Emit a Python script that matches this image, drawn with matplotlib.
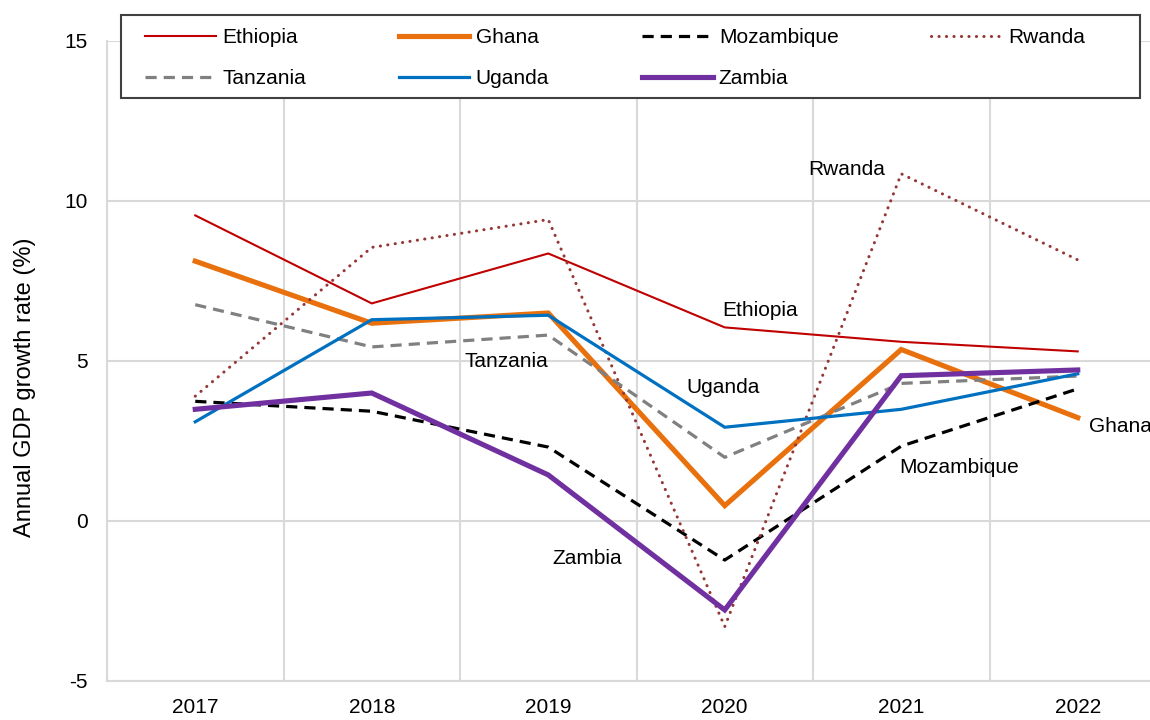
#Crescimento anual do PIB (%) - sete paises africanos, 2017 a 2022
import matplotlib.pyplot as plt
from matplotlib.patches import Rectangle

plt.rcParams['font.family'] = ['Liberation Sans', 'DejaVu Sans']

anos = ['2017', '2018', '2019', '2020', '2021', '2022']

ethiopia = [9.55, 6.80, 8.36, 6.05, 5.60, 5.30]
ghana = [8.12, 6.18, 6.50, 0.48, 5.36, 3.23]
mozambique = [3.74, 3.43, 2.31, -1.22, 2.34, 4.13]
rwanda = [3.90, 8.55, 9.42, -3.30, 10.85, 8.16]
tanzania = [6.76, 5.44, 5.81, 1.99, 4.30, 4.53]
uganda = [3.10, 6.29, 6.43, 2.93, 3.49, 4.60]
zambia = [3.49, 4.00, 1.44, -2.78, 4.54, 4.72]

paises = ['Ethiopia', 'Ghana', 'Mozambique', 'Rwanda', 'Tanzania', 'Uganda', 'Zambia']
series = [ethiopia, ghana, mozambique, rwanda, tanzania, uganda, zambia]
cores = ['#c00000', '#e8710e', '#000000', '#953735', '#808080', '#0070c0', '#7030a0']
larguras = [1.5, 3.7, 2.3, 2.2, 2.3, 2.3, 3.7]
estilos = ['-', '-', (0, (3.5, 2.2)), (0, (0.05, 2.4)), (0, (3.5, 2.2)), '-', '-']

# rotulos escritos direto no grafico (posicao em unidades de dados)
rotulos = [('Rwanda', 3.69, 10.97, 'center'), ('Ethiopia', 3.20, 6.59, 'center'),
           ('Uganda', 2.99, 4.16, 'center'), ('Tanzania', 1.76, 4.97, 'center'),
           ('Ghana', 5.065, 2.94, 'left'), ('Mozambique', 4.33, 1.66, 'center'),
           ('Zambia', 2.22, -1.16, 'center')]

fig = plt.figure(figsize=(11.5, 7.2), dpi=100)
ax = fig.add_axes([107 / 1150, 39 / 720, 1059 / 1150, 640 / 720])

x = list(range(len(anos)))
linhas = {}
for nome, y, cor, lw, ls in zip(paises, series, cores, larguras, estilos):
    cap = 'round' if nome == 'Rwanda' else 'butt'
    linhas[nome], = ax.plot(x, y, color=cor, linewidth=lw, linestyle=ls, label=nome,
                            dash_capstyle=cap, solid_joinstyle='miter')

for texto, tx, ty, ha in rotulos:
    ax.text(tx, ty, texto, fontsize=15, ha=ha, va='center', color='#000000')

ax.set_xlim(-0.5, 5.5)
ax.set_ylim(-5, 15)
ax.set_xticks(x)
ax.set_xticklabels(anos)
ax.set_xticks([i - 0.5 for i in range(len(anos) + 1)], minor=True)
ax.set_yticks([-5, 0, 5, 10, 15])
ax.set_yticklabels(['-5', '0', '5', '10', '15'])
ax.tick_params(axis='x', which='both', length=0, labelsize=15, pad=12)
ax.tick_params(axis='y', length=0, labelsize=15, pad=14)
ax.grid(True, which='minor', axis='x', color='#d9d9d9', linewidth=1.5)
ax.grid(True, which='major', axis='y', color='#d9d9d9', linewidth=1.5)
ax.set_axisbelow(True)
for lado in ['top', 'right']:
    ax.spines[lado].set_visible(False)
for lado in ['left', 'bottom']:
    ax.spines[lado].set_color('#d9d9d9')
    ax.spines[lado].set_linewidth(1.5)

fig.text(25 / 1150, 1 - 387 / 720, 'Annual GDP growth rate (%)', rotation=90,
         ha='center', va='center', fontsize=17)

# caixa da legenda desenhada a parte, legenda por linhas (4 colunas)
caixa = Rectangle((121 / 1150, 1 - 98 / 720), 1019 / 1150, 83 / 720,
                  transform=fig.transFigure, facecolor='white', edgecolor='#404040',
                  linewidth=1.5, zorder=5)
fig.patches.append(caixa)

ordem = ['Ethiopia', 'Tanzania', 'Ghana', 'Uganda', 'Mozambique', 'Zambia', 'Rwanda']
leg = fig.legend([linhas[n] for n in ordem], ordem, loc='upper left', ncol=4,
                 fontsize=15, bbox_to_anchor=(145 / 1150, 1 - 28 / 720),
                 handlelength=3.4, handletextpad=0.3, labelspacing=1.05,
                 columnspacing=4.45, borderaxespad=0, borderpad=0, frameon=False)
leg.set_zorder(6)

plt.savefig('out.png', dpi=100)
